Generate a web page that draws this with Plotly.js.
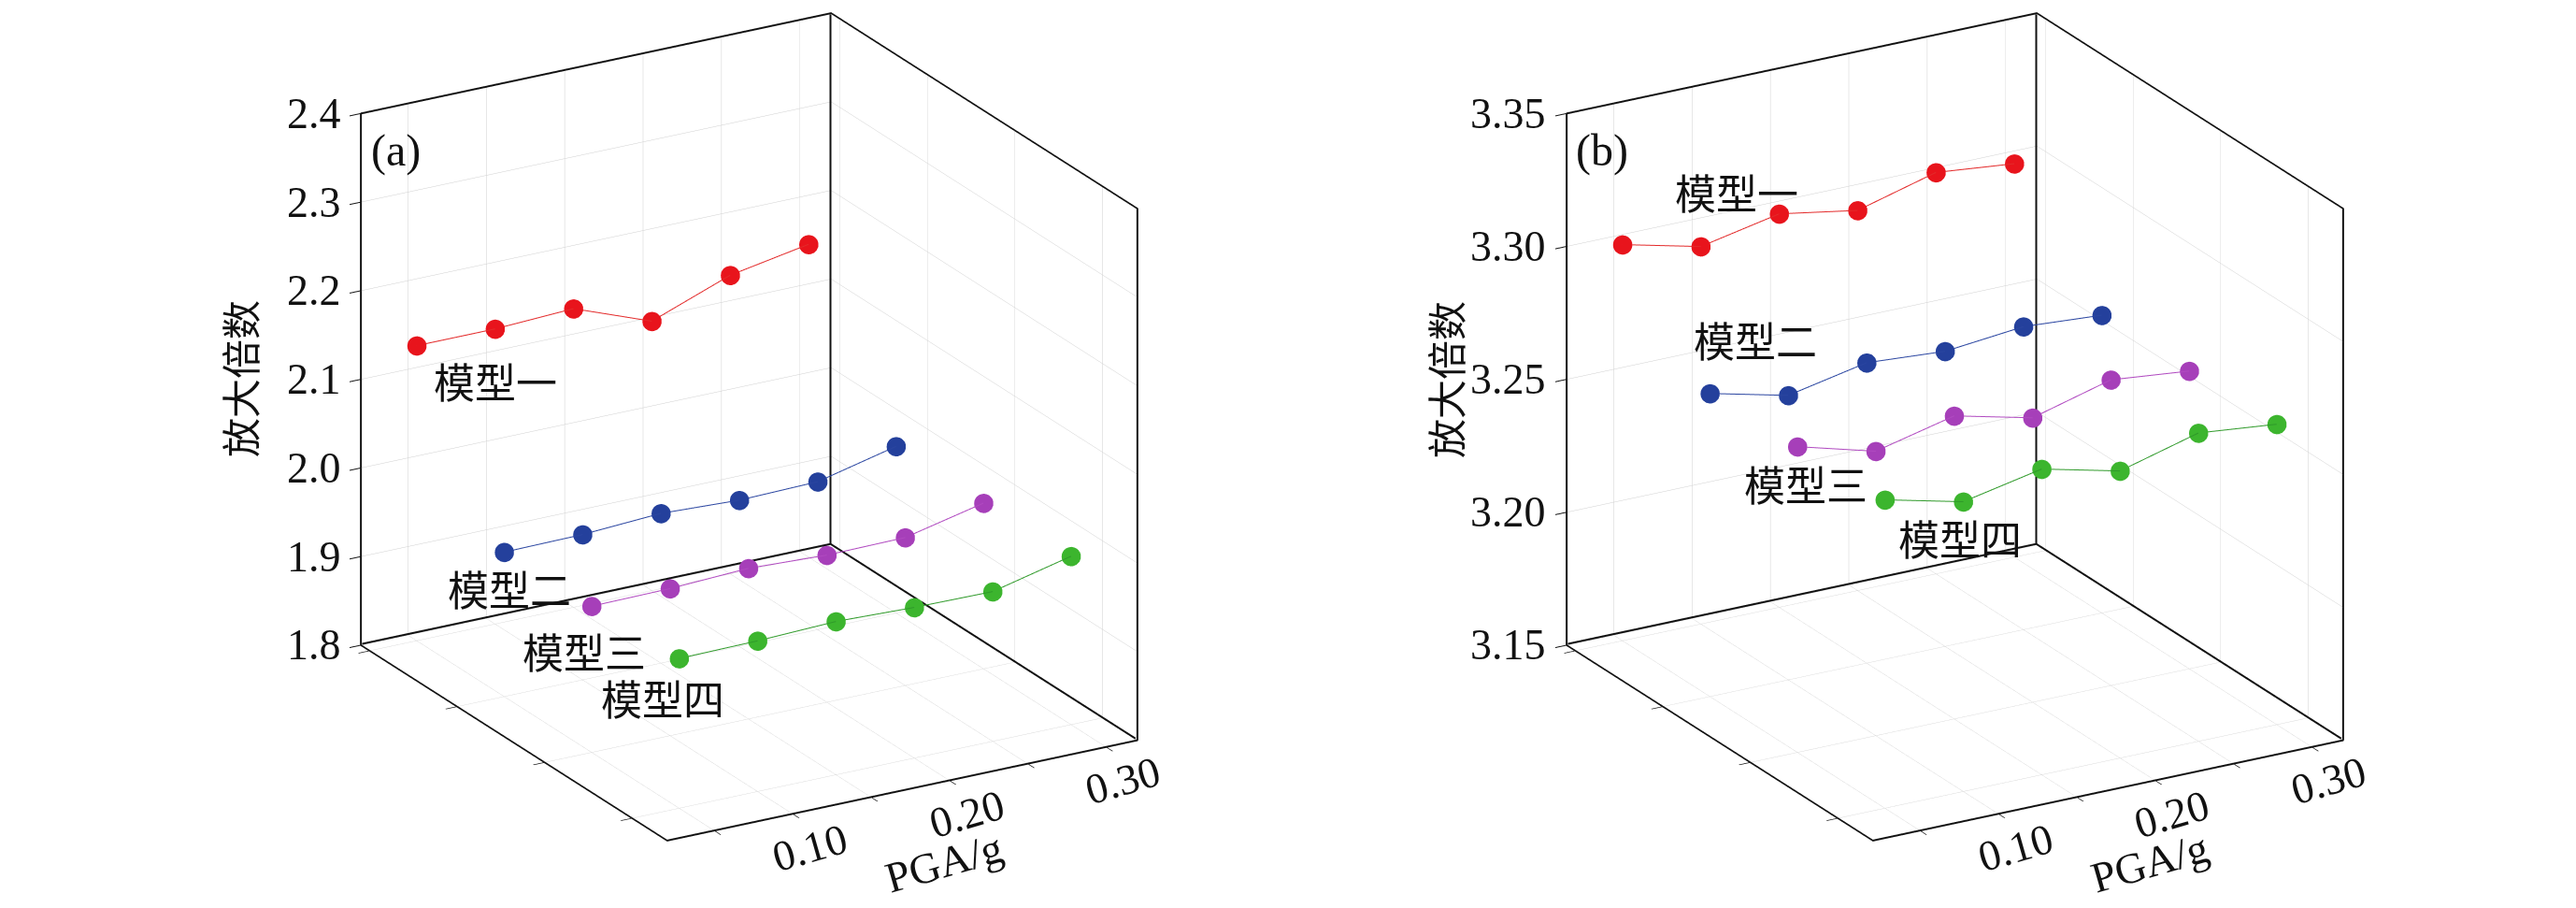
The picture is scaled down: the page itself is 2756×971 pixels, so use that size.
<!DOCTYPE html>
<html>
<head>
<meta charset="utf-8">
<script src="https://cdn.plot.ly/plotly-3.0.1.min.js"></script>
<style>html,body{margin:0;padding:0;background:#fff;}#chart{width:2756px;height:971px;}</style>
</head>
<body>
<div id="chart"></div>
<script>
// ---- data ----
const pga = [0.05, 0.10, 0.15, 0.20, 0.25, 0.30];
const models = ['模型一', '模型二', '模型三', '模型四'];
const pgaTickVals = [0.05, 0.10, 0.15, 0.20, 0.25, 0.30];
const pgaTickText = ['', '0.10', '', '0.20', '', '0.30'];

// panel (a)
const aModel1 = [2.133, 2.133, 2.137, 2.104, 2.137, 2.153];
const aModel2 = [1.963, 1.964, 1.969, 1.965, 1.967, 1.988];
const aModel3 = [1.965, 1.966, 1.970, 1.966, 1.967, 1.987];
const aModel4 = [1.969, 1.970, 1.973, 1.970, 1.969, 1.990];
const aZTicks = [1.8, 1.9, 2.0, 2.1, 2.2, 2.3, 2.4];

// panel (b)
const bModel1 = [3.299, 3.292, 3.298, 3.293, 3.301, 3.298];
const bModel2 = [3.264, 3.257, 3.263, 3.261, 3.264, 3.262];
const bModel3 = [3.265, 3.257, 3.264, 3.257, 3.265, 3.262];
const bModel4 = [3.266, 3.259, 3.265, 3.258, 3.266, 3.263];
const bZTicks = [3.15, 3.20, 3.25, 3.30, 3.35];

// ---- styling ----
const colors = ['#e8141c', '#24409c', '#a63fb9', '#3cb52e'];
const lineColors = ['#e32a2a', '#2a45a0', '#b04ac0', '#2f9a2a'];
const serif = '"Liberation Serif", "Times New Roman", serif';
const cjk = '"Liberation Serif", "Noto Sans CJK SC", serif';
const X_RANGE = [0.02, 0.32];
const Y_RANGE = [0.6, 4.1];
const BOX_ZOOM = 1.34;
const depth = i => models.length - i;   // model 1 sits at the back wall

function seriesTraces(valuesList, scene) {
  return valuesList.map((vals, i) => ({
    type: 'scatter3d', mode: 'lines+markers', scene: scene,
    x: pga, y: pga.map(() => depth(i)), z: vals,
    name: models[i], showlegend: false, hoverinfo: 'skip',
    line: {color: lineColors[i], width: 2},
    marker: {size: 12, color: colors[i], symbol: 'circle'}
  }));
}
// inner box edges (back corner and back floor edges), taken from the axis ranges,
// nudged a hair toward the viewer so the grid does not hide them
function edgeTraces(zRange, scene) {
  const ex = 0.004 * (X_RANGE[1] - X_RANGE[0]);
  const ey = 0.004 * (Y_RANGE[1] - Y_RANGE[0]);
  const ez = 0.004 * (zRange[1] - zRange[0]);
  const x1 = X_RANGE[1] - ex, y1 = Y_RANGE[1] - ey, z0 = zRange[0] + ez;
  const st = {type: 'scatter3d', mode: 'lines', scene: scene, showlegend: false, hoverinfo: 'skip',
              line: {color: '#111', width: 4}};
  return [
    Object.assign({x: [x1, x1], y: [y1, y1], z: [z0, zRange[1]]}, st),
    Object.assign({x: [X_RANGE[0], x1, x1], y: [y1, y1, Y_RANGE[0]], z: [z0, z0, z0]}, st)
  ];
}

const traces = [].concat(
  edgeTraces([1.8, 2.4], 'scene'),
  edgeTraces([3.15, 3.35], 'scene2'),
  seriesTraces([aModel1, aModel2, aModel3, aModel4], 'scene'),
  seriesTraces([bModel1, bModel2, bModel3, bModel4], 'scene2')
);

function axisCommon() {
  return {
    showbackground: false, showgrid: true, gridcolor: '#cfcfcf', gridwidth: 1,
    zeroline: false, showline: true, linecolor: '#111', linewidth: 4, mirror: true,
    ticks: 'inside', tickcolor: '#111', tickwidth: 2, ticklen: 14,
    showspikes: false, showticklabels: false, title: {text: ''}
  };
}

function makeScene(domainX, zRange, zTicks) {
  return {
    domain: {x: domainX, y: [0.06, 1.0]},
    aspectmode: 'manual',
    aspectratio: {x: 0.95 * BOX_ZOOM, y: 1.07 * BOX_ZOOM, z: 1.0 * BOX_ZOOM},
    camera: {eye: {x: -0.540, y: -0.934, z: 0.428}, center: {x: 0, y: 0, z: 0}, up: {x: 0, y: 0, z: 1},
             projection: {type: 'orthographic'}},
    xaxis: Object.assign(axisCommon(), {range: X_RANGE, tickvals: pgaTickVals}),
    yaxis: Object.assign(axisCommon(), {range: Y_RANGE, tickvals: [1, 2, 3, 4]}),
    zaxis: Object.assign(axisCommon(), {range: zRange, tickvals: zTicks}),
    annotations: []
  };
}

const sceneA = makeScene([0.101, 0.481], [1.8, 2.4], aZTicks);
const sceneB = makeScene([0.569, 0.949], [3.15, 3.35], bZTicks);

function ann(text, x, y, z, opts) {
  return Object.assign({x: x, y: y, z: z, text: text, showarrow: false,
          font: {family: cjk, size: 44, color: '#111'}}, opts || {});
}
function axisLabels(zRange, zTicks, zFmt, tag) {
  const out = [];
  zTicks.forEach(t => out.push(ann(t.toFixed(zFmt), X_RANGE[0], Y_RANGE[1], t,
    {xanchor: 'right', xshift: -20, font: {family: serif, size: 46, color: '#111'}})));
  pgaTickVals.forEach((t, k) => { if (pgaTickText[k]) out.push(ann(pgaTickText[k], t, Y_RANGE[0], zRange[0],
    {textangle: -16, xshift: 18, yshift: -36, font: {family: serif, size: 46, color: '#111'}})); });
  out.push(ann('PGA/g', 0.20, Y_RANGE[0], zRange[0],
    {textangle: -16, xshift: -6, yshift: -88, font: {family: serif, size: 46, color: '#111'}}));
  out.push(ann('放大倍数', X_RANGE[0], Y_RANGE[1], (zRange[0] + zRange[1]) / 2,
    {textangle: -90, xshift: -127, font: {family: cjk, size: 42, color: '#111'}}));
  out.push(ann(tag, X_RANGE[0], Y_RANGE[1], zRange[0] + 0.93 * (zRange[1] - zRange[0]),
    {xanchor: 'left', xshift: 8, font: {family: serif, size: 48, color: '#111'}}));
  return out;
}
// model labels: (pga position, model index, value)
const aLabels = [[0.100, 0, 2.070], [0.053, 1, 1.916], [0.045, 2, 1.911], [0.039, 3, 1.924]];
const bLabels = [[0.123, 0, 3.308], [0.079, 1, 3.279], [0.055, 2, 3.249], [0.098, 3, 3.244]];
sceneA.annotations = aLabels.map(p => ann(models[p[1]], p[0], depth(p[1]), p[2]))
  .concat(axisLabels([1.8, 2.4], aZTicks, 1, '(a)'));
sceneB.annotations = bLabels.map(p => ann(models[p[1]], p[0], depth(p[1]), p[2]))
  .concat(axisLabels([3.15, 3.35], bZTicks, 2, '(b)'));

const layout = {
  width: 2756, height: 971,
  paper_bgcolor: '#fff', plot_bgcolor: '#fff',
  margin: {l: 0, r: 0, t: 0, b: 0},
  showlegend: false,
  scene: sceneA, scene2: sceneB
};

Plotly.newPlot('chart', traces, layout, {displayModeBar: false});
</script>
</body>
</html>
